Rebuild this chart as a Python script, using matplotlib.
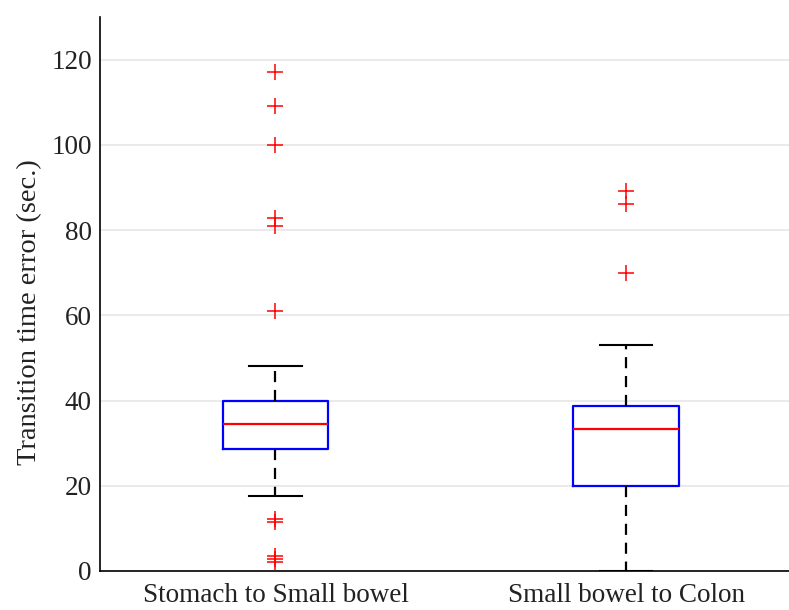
import matplotlib
matplotlib.use("Agg")
import matplotlib.pyplot as plt

# Values
groups = ["Stomach to Small bowel", "Small bowel to Colon"]
medians = [34.5, 33.4]
q1 = [28.7, 19.9]
q3 = [39.8, 38.8]
whisker_low = [17.7, 0.0]
whisker_high = [48.1, 53.0]
outliers = [
    [117.2, 109.2, 99.9, 82.9, 80.9, 61.1, 12.3, 11.6, 3.4, 2.8, 2.2],
    [89.1, 86.2, 70.0],
]
y_ticks = [0, 20, 40, 60, 80, 100, 120]

plt.rcParams["font.family"] = ["Liberation Serif", "DejaVu Serif"]

fig = plt.figure(figsize=(7.89, 6.10), dpi=100)
ax = fig.add_axes([0.127, 0.064, 0.873, 0.908])

stats = []
for i, name in enumerate(groups):
    stats.append({
        "label": name,
        "med": medians[i],
        "q1": q1[i],
        "q3": q3[i],
        "whislo": whisker_low[i],
        "whishi": whisker_high[i],
        "fliers": outliers[i],
    })

ax.bxp(
    stats,
    positions=[1, 2],
    widths=0.30,
    showfliers=True,
    boxprops=dict(color="#0000ff", linewidth=1.6),
    medianprops=dict(color="#ff0000", linewidth=1.6),
    whiskerprops=dict(color="black", linewidth=1.6, linestyle=(0, (5, 3.5))),
    capprops=dict(color="black", linewidth=1.5),
    flierprops=dict(marker="+", markeredgecolor="#ff0000", markersize=11,
                    markeredgewidth=1.1, linestyle="none"),
)

ax.set_xlim(0.5, 2.465)
ax.set_ylim(0, 130)
ax.set_yticks(y_ticks)
ax.yaxis.grid(True, color="#e6e6e6", linewidth=1.2)
ax.set_axisbelow(True)

ax.spines["top"].set_visible(False)
ax.spines["right"].set_visible(False)
ax.spines["left"].set_linewidth(1.2)
ax.spines["bottom"].set_linewidth(1.2)
ax.tick_params(axis="y", length=0, labelsize=19.5, pad=6, labelcolor="#222222")
ax.tick_params(axis="x", length=0, labelsize=19.5, pad=9, labelcolor="#222222")
ax.set_ylabel("Transition time error (sec.)", fontsize=20.5, color="#222222")
ax.yaxis.set_label_coords(-0.084, 0.468)

fig.savefig("out.png", dpi=100)
